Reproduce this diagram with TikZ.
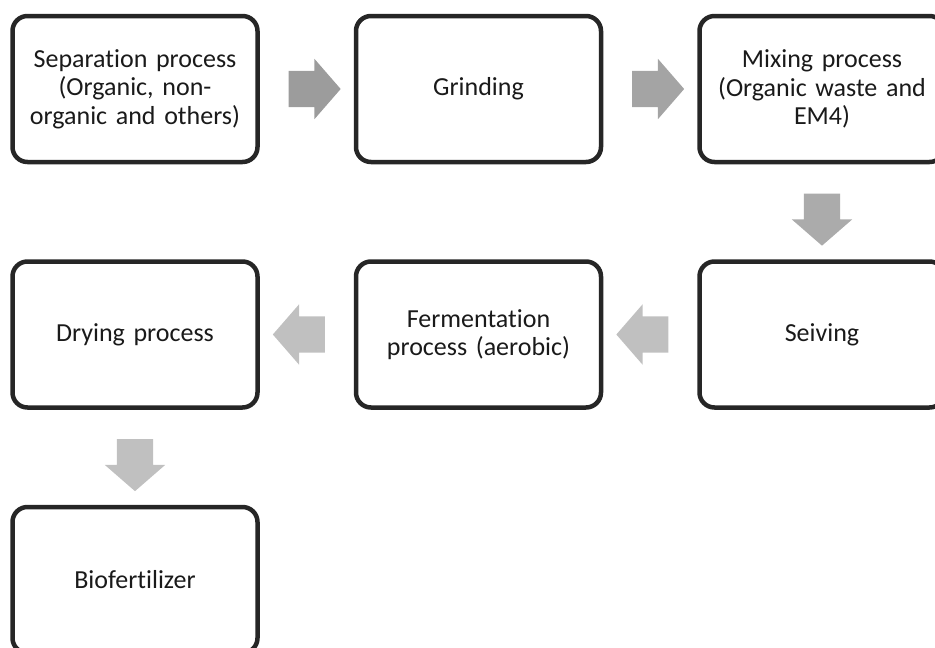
\documentclass[tikz,border=0pt]{standalone}
\usepackage{fontspec}
\setmainfont{Carlito}[Ligatures=NoCommon]
\usetikzlibrary{positioning}
\usetikzlibrary{shapes.arrows}

\definecolor{boxline}{HTML}{262626}
\definecolor{boxtext}{HTML}{1A1A1A}
\definecolor{flowdark}{HTML}{9C9C9C}
\definecolor{flowmid}{HTML}{A4A4A4}
\definecolor{flowgray}{HTML}{ABABAB}
\definecolor{flowlight}{HTML}{C0C0C0}

\begin{document}
\begin{tikzpicture}[x=1pt,y=-1pt,node distance=95pt and 94pt,
    stepbox/.style={draw=boxline, line width=4.5pt, rounded corners=15pt, fill=white,
      minimum width=245pt, minimum height=146pt, text width=230pt, align=center,
      text=boxtext, font=\fontsize{26}{28.5}\selectfont},
    flow/.style={single arrow, draw=none, fill=flowlight, minimum height=52pt,
      inner xsep=0pt, inner ysep=18pt, single arrow head extend=12pt,
      single arrow tip angle=98, sloped, allow upside down}]
  \useasboundingbox (0,0) rectangle (935,648);

  \node[stepbox] (Separate) at (135,89) {Separation process\\(Organic, non-\\organic and others)};
  \node[stepbox] (Grind)   [right=of Separate] {Grinding};
  \node[stepbox] (Mix)     [right=of Grind]    {Mixing process\\(Organic waste and\\EM4)};
  \node[stepbox] (Seive)   [below=of Mix]      {Seiving};
  \node[stepbox] (Ferment) [left=of Seive]     {Fermentation\\process (aerobic)};
  \node[stepbox] (Dry)     [left=of Ferment]   {Drying process};
  \node[stepbox] (Bio)     [below=of Dry]      {Biofertilizer};

  \path
    (Separate) -- node[flow, fill=flowdark] {} (Grind)
    (Grind)    -- node[flow, fill=flowmid]  {} (Mix)
    (Mix)      -- node[flow, fill=flowgray] {} (Seive)
    (Seive)    -- node[flow] {} (Ferment)
    (Ferment)  -- node[flow] {} (Dry)
    (Dry)      -- node[flow] {} (Bio);
\end{tikzpicture}
\end{document}
